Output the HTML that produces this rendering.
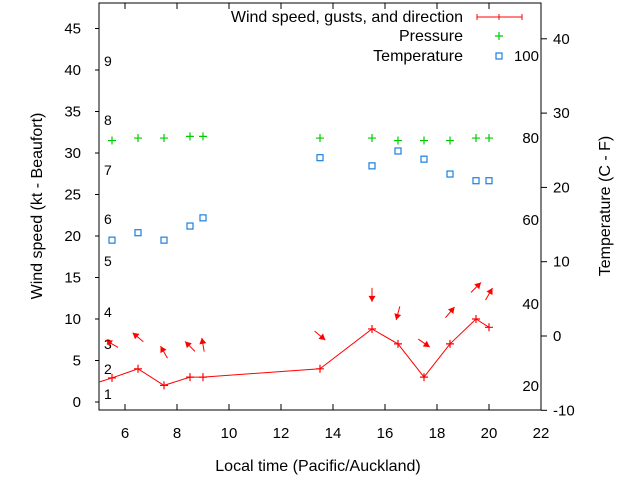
<!DOCTYPE html>
<html><head><meta charset="utf-8"><style>
body{margin:0;background:#fff;}
svg{display:block;font-family:"Liberation Sans",sans-serif;}
</style></head><body>
<svg id="chart" width="640" height="480"></svg>
<script>
const times=[5.5,6.5,7.5,8.5,9.0,13.5,15.5,16.5,17.5,18.5,19.5,20.0];
const windSpeed=[2.9,4.0,2.0,3.0,3.0,4.0,8.8,7.0,3.0,7.0,10.0,9.0];
const gustSpeed=[7.0,7.8,6.0,6.7,6.9,8.0,12.9,10.7,7.1,10.8,13.8,13.0];
const arrowAngle=[-150,-140,-120,-135,-100,40,90,105,35,-50,-45,-60];
const pressure=[31.5,31.8,31.8,32.0,32.0,31.8,31.8,31.5,31.5,31.5,31.8,31.8];
const temperature=[12.9,13.9,12.9,14.8,15.9,24.0,22.9,24.9,23.8,21.8,20.9,20.9];
const leadTime=4.5, leadSpeed=1.9;
const xTicks=[6,8,10,12,14,16,18,20,22];
const yTicks=[0,5,10,15,20,25,30,35,40,45];
const y2Ticks=[-10,0,10,20,30,40];
const beaufortLabels=[["1",394],["2",369],["3",344],["4",312],["5",261],["6",219],["7",170],["8",120],["9",61]];
const fLabels=[["100",56],["80",138],["60",220],["40",304],["20",386]];

const L=99,R=541,T=3,B=410;
const X=v=>L+(v-5)*26;
const Y=v=>402-v*8.3;
const Y2=v=>336-v*7.43;
const svg=document.getElementById('chart');
const NS='http://www.w3.org/2000/svg';
function mk(tag,attrs,parent){const e=document.createElementNS(NS,tag);for(const k in attrs)e.setAttribute(k,attrs[k]);(parent||svg).appendChild(e);return e;}

const defs=mk('defs',{});const cp=mk('clipPath',{id:'pc'},defs);mk('rect',{x:L,y:T,width:R-L,height:B-T},cp);

const frame=mk('rect',{x:L,y:T,width:R-L,height:B-T,fill:'none',stroke:'#000','stroke-width':1});



xTicks.forEach(v=>{
 const x=X(v);
 mk('line',{x1:x,y1:B,x2:x,y2:B-6,stroke:'#000'});
 mk('line',{x1:x,y1:T,x2:x,y2:T+6,stroke:'#000'});
 const t=mk('text',{x:x,y:B+28,'text-anchor':'middle','font-size':15});t.textContent=v;
 
 
});
yTicks.forEach(v=>{
 const y=Y(v);
 mk('line',{x1:L-4,y1:y,x2:L,y2:y,stroke:'#000'});
 const t=mk('text',{x:81,y:y+5,'text-anchor':'end','font-size':15});t.textContent=v;
 
 
});
y2Ticks.forEach(v=>{
 const y=Y2(v);
 mk('line',{x1:R,y1:y,x2:R+6,y2:y,stroke:'#000'});
 const t=mk('text',{x:R+12,y:y+5,'text-anchor':'start','font-size':15});t.textContent=v;
 
 
});
beaufortLabels.forEach(([s,y])=>{
 const t=mk('text',{x:104,y:y+5,'font-size':14});t.textContent=s;
 
 
});
fLabels.forEach(([s,y])=>{
 const t=mk('text',{x:539,y:y+5,'text-anchor':'end','font-size':15});t.textContent=s;
 
 
});

const g=mk('g',{'clip-path':'url(#pc)'});
let pts=[[X(leadTime),Y(leadSpeed)]].concat(times.map((t,i)=>[X(t),Y(windSpeed[i])]));
const pl=mk('polyline',{points:pts.map(p=>p.join(',')).join(' '),fill:'none',stroke:'#f00','stroke-width':1},g);


times.forEach((t,i)=>{
 const x=X(t),y=Y(windSpeed[i]);
 const p=mk('path',{d:`M${x-4},${y}H${x+4}M${x},${y-4}V${y+4}`,stroke:'#f00','stroke-width':1.2},g);
 
 
 const a=arrowAngle[i]*Math.PI/180,cx=x,cy=Y(gustSpeed[i]);
 const dx=Math.cos(a)*7,dy=Math.sin(a)*7;
 const hx=cx+dx,hy=cy+dy,tx=cx-dx,ty=cy-dy;
 const ux=Math.cos(a),uy=Math.sin(a);
 const bx=hx-ux*6,by=hy-uy*6;
 const ar=mk('g',{},g);
 
 
 mk('line',{x1:tx,y1:ty,x2:hx,y2:hy,stroke:'#f00','stroke-width':1},ar);
 mk('polygon',{points:`${hx},${hy} ${bx-uy*3.5},${by+ux*3.5} ${bx+uy*3.5},${by-ux*3.5}`,fill:'#f00'},ar);
});
times.forEach((t,i)=>{
 const x=X(t),y=Y(pressure[i]);
 const p=mk('path',{d:`M${x-4},${y}H${x+4}M${x},${y-4}V${y+4}`,stroke:'#0c0','stroke-width':1.2},g);
 
 
});
times.forEach((t,i)=>{
 const x=X(t),y=Y2(temperature[i]);
 const r=mk('rect',{x:x-3,y:y-3,width:6,height:6,fill:'none',stroke:'#1a7fe0','stroke-width':1.2},g);
 
 
});

const lg=mk('g',{});


[['Wind speed, gusts, and direction',17],['Pressure',36],['Temperature',56]].forEach(([s,y])=>{
 const t=mk('text',{x:463,y:y+5,'text-anchor':'end','font-size':16},lg);t.textContent=s;
 
 
});
mk('path',{d:'M477,17H522M477,14V20M522,14V20M499,14V20',stroke:'#f00','stroke-width':1},lg);
mk('path',{d:'M495,36H503M499,32V40',stroke:'#0c0','stroke-width':1.2},lg);
mk('rect',{x:496,y:53,width:6,height:6,fill:'none',stroke:'#1a7fe0','stroke-width':1.2},lg);

let t=mk('text',{x:318,y:471,'text-anchor':'middle','font-size':16});t.textContent='Local time (Pacific/Auckland)';


t=mk('text',{x:0,y:0,'text-anchor':'middle','font-size':16,transform:'translate(42,206) rotate(-90)'});t.textContent='Wind speed (kt - Beaufort)';


t=mk('text',{x:0,y:0,'text-anchor':'middle','font-size':16,transform:'translate(610,206) rotate(-90)'});t.textContent='Temperature (C - F)';


</script>
</body></html>
